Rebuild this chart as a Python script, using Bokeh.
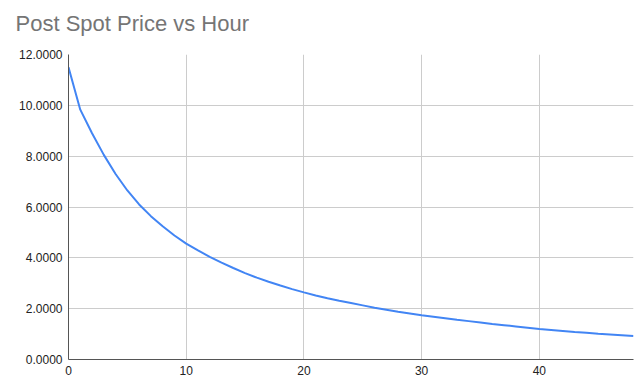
from bokeh.plotting import figure
from bokeh.models import Range1d, NumeralTickFormatter, FixedTicker, Title
from bokeh.embed import file_html
from bokeh.resources import INLINE

hours = list(range(0, 49))
prices = [11.50, 9.83, 8.90, 8.05, 7.30, 6.65, 6.10, 5.64, 5.24, 4.88,
          4.56, 4.29, 4.04, 3.81, 3.60, 3.40, 3.22, 3.06, 2.91, 2.77,
          2.64, 2.52, 2.41, 2.31, 2.22, 2.13, 2.04, 1.96, 1.88, 1.81,
          1.74, 1.68, 1.62, 1.56, 1.51, 1.46, 1.40, 1.35, 1.30, 1.25,
          1.20, 1.16, 1.12, 1.08, 1.05, 1.01, 0.98, 0.95, 0.92]
x_ticks = [0, 10, 20, 30, 40]
y_ticks = [0, 2, 4, 6, 8, 10, 12]

p = figure(width=635, height=383, output_backend="svg", toolbar_location=None,
           x_range=Range1d(0, 48), y_range=Range1d(0, 12),
           min_border_left=68, min_border_right=2, min_border_top=54, min_border_bottom=24)
p.title.text = "Post Spot Price vs Hour"
p.title.text_font = "Liberation Sans"
p.title.text_font_size = "22px"
p.title.text_font_style = "normal"
p.title.text_color = "#757575"
p.title.offset = -53
p.add_layout(Title(text=" ", text_font_size="2px", text_color="#ffffff"), "above")
p.outline_line_color = None

p.line(hours, prices, line_color="#4285F4", line_width=2)

for ax in (p.xaxis, p.yaxis):
    ax.major_tick_line_color = None
    ax.minor_tick_line_color = None
    ax.major_tick_out = 0
    ax.major_tick_in = 0
    ax.axis_line_color = "#555555"
    ax.axis_line_width = 1
    ax.major_label_text_font = "Liberation Sans"
    ax.major_label_text_font_size = "12px"
    ax.major_label_text_color = "#222222"
p.xaxis.ticker = FixedTicker(ticks=x_ticks)
p.yaxis.ticker = FixedTicker(ticks=y_ticks)
p.yaxis.formatter = NumeralTickFormatter(format="0.0000")
p.xaxis.major_label_standoff = 6
p.yaxis.major_label_standoff = 6
p.xgrid.ticker = FixedTicker(ticks=x_ticks)
p.ygrid.ticker = FixedTicker(ticks=y_ticks)
p.grid.grid_line_color = "#cccccc"
p.grid.grid_line_width = 1

open("out.html", "w").write(file_html(p, INLINE))
